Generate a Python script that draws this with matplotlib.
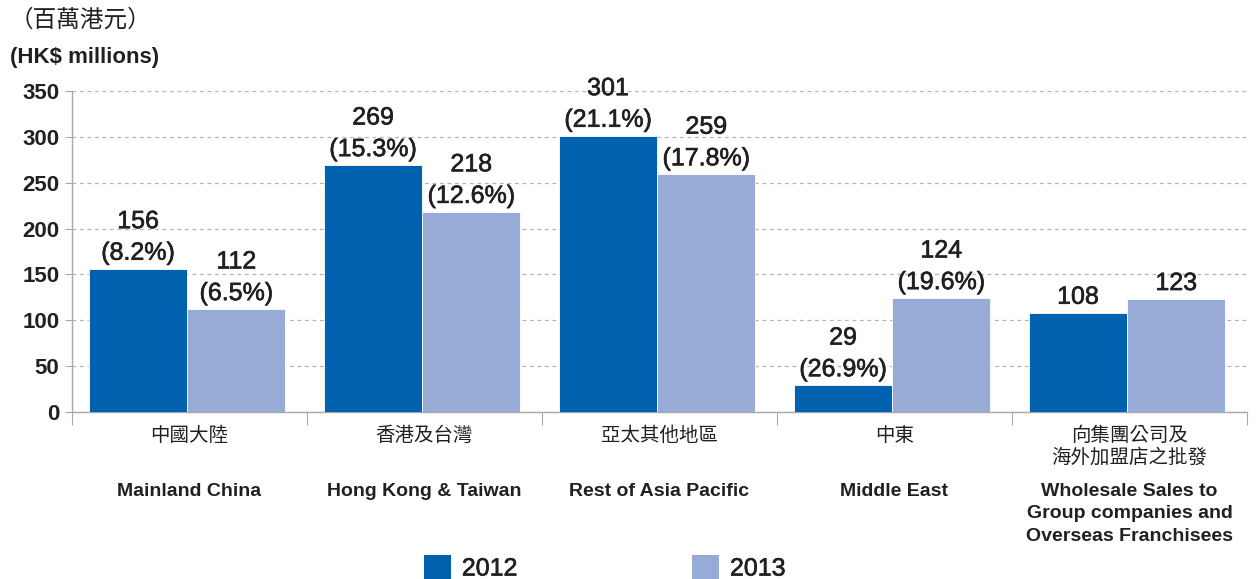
import numpy as np
import matplotlib
matplotlib.use("Agg")
import matplotlib.pyplot as plt
import matplotlib.patheffects as pe
from matplotlib.patches import Patch

plt.rcParams['font.family'] = ['Liberation Sans', 'Noto Sans CJK TC', 'DejaVu Sans']

# ---- data
cats_zh = ['中國大陸', '香港及台灣', '亞太其他地區', '中東', '向集團公司及\n海外加盟店之批發']
cats_en = ['Mainland China', 'Hong Kong & Taiwan', 'Rest of Asia Pacific', 'Middle East',
           'Wholesale Sales to\nGroup companies and\nOverseas Franchisees']
sales_2012 = [156, 269, 301, 29, 108]
sales_2013 = [112, 218, 259, 124, 123]
pct_2012 = ['(8.2%)', '(15.3%)', '(21.1%)', '(26.9%)', '']
pct_2013 = ['(6.5%)', '(12.6%)', '(17.8%)', '(19.6%)', '']

dark = '#0062AE'
light = '#97ABD6'
txt = '#231F20'
grey = '#A8A8A8'

# slightly heavier than regular, like the medium weight of the original
medium = [pe.withStroke(linewidth=0.45, foreground=txt)]

fig = plt.figure(figsize=(12.57, 5.79), dpi=100)
ax = fig.add_axes([72/1257, 167/579, 1175/1257, 321/579])

x = np.arange(len(cats_en))
w = 0.418
b1 = ax.bar(x - w/2 - 0.01, sales_2012, w, color=dark, edgecolor='white', linewidth=0.6, zorder=3)
b2 = ax.bar(x + w/2 - 0.01, sales_2013, w, color=light, edgecolor='white', linewidth=0.6, zorder=3)

# value labels
for bars, vals, pcts in [(b1, sales_2012, pct_2012), (b2, sales_2013, pct_2013)]:
    for r, v, p in zip(bars, vals, pcts):
        s = str(v) if p == '' else '{}\n{}'.format(v, p)
        ax.annotate(s, (r.get_x() + r.get_width()/2, v), xytext=(0, 3), textcoords='offset points',
                    ha='center', va='bottom', fontsize=18, color=txt, linespacing=1.4,
                    path_effects=medium)

ax.set_xlim(-0.5, 4.5)
ax.set_ylim(0, 350)
ax.set_yticks(range(0, 351, 50))
ax.tick_params(axis='y', labelsize=16, colors=grey, labelcolor=txt, length=5, pad=4)
for t in ax.get_yticklabels():
    t.set_fontweight('bold')
ax.set_xticks(np.arange(-0.5, 4.6, 1))
ax.set_xticklabels([])
ax.tick_params(axis='x', length=9, colors=grey, direction='out')
ax.grid(axis='y', linestyle=(0, (3, 3)), color='#B5B5B5', linewidth=0.9, zorder=0)
for s in ['top', 'right']:
    ax.spines[s].set_visible(False)
for s in ['left', 'bottom']:
    ax.spines[s].set_color(grey)
    ax.spines[s].set_linewidth(1.0)

# category labels
for i in range(len(cats_en)):
    ax.text(i, -14, cats_zh[i], ha='center', va='top', fontsize=14, color=txt,
            family=['Noto Sans CJK TC'], linespacing=1.05)
    ax.text(i, -77, cats_en[i], ha='center', va='top', fontsize=14, color=txt,
            fontweight='bold', linespacing=1.45)

fig.text(10/1257, 1 - 20/579, '（百萬港元）', ha='left', va='center', fontsize=17,
         color=txt, family=['Noto Sans CJK TC'])
fig.text(10/1257, 1 - 57/579, '(HK$ millions)', ha='left', va='center', fontsize=16,
         color=txt, fontweight='bold')

handles = [Patch(facecolor=dark, label='2012'), Patch(facecolor=light, label='2013')]
leg = fig.legend(handles=handles, loc='center', bbox_to_anchor=(605/1257, 11/579), ncol=2,
                 frameon=False, fontsize=18, handlelength=1.05, handleheight=1.05,
                 handletextpad=0.45, columnspacing=7.0)
for t in leg.get_texts():
    t.set_color(txt)
    t.set_path_effects(medium)

fig.savefig('out.png', dpi=100)
